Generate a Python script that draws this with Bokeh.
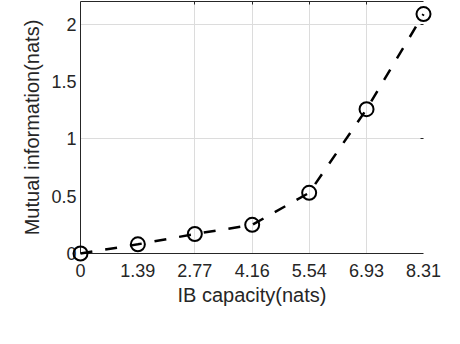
from bokeh.plotting import figure
from bokeh.models import FixedTicker, NumeralTickFormatter, LinearAxis, Range1d, CustomJSTickFormatter
from bokeh.embed import file_html
from bokeh.resources import INLINE

# Data
capacity = [0, 1.39, 2.77, 4.16, 5.54, 6.93, 8.31]
mutual_info = [0.0, 0.08, 0.17, 0.25, 0.53, 1.26, 2.09]
x_ticks = [0, 1.39, 2.77, 4.16, 5.54, 6.93, 8.31]
y_ticks = [0, 0.5, 1, 1.5, 2]
x_grid_ticks = [2.77, 4.16, 5.54, 6.93]
y_grid_ticks = [1, 2]

FONT = "Liberation Sans"
AX = "#262626"

p = figure(width=454, height=334,
           x_range=Range1d(0, 8.31), y_range=Range1d(0, 2.2),
           output_backend="svg", toolbar_location=None,
           min_border_left=84, min_border_right=27,
           min_border_top=5, min_border_bottom=77)
p.margin = (-4, 0, 0, -4)
p.outline_line_color = None
p.background_fill_color = "white"
p.border_fill_color = "white"

# grids
p.xgrid.ticker = FixedTicker(ticks=x_grid_ticks)
p.ygrid.ticker = FixedTicker(ticks=y_grid_ticks)
for g in (p.xgrid, p.ygrid):
    g.grid_line_color = "#dcdcdc"
    g.grid_line_width = 1

# bottom axis
xa = p.xaxis[0]
xa.ticker = FixedTicker(ticks=x_ticks)
xa.formatter = NumeralTickFormatter(format="0.[00]")
xa.axis_label = "IB capacity(nats)"
xa.major_tick_in = 0
xa.major_tick_out = 0
xa.minor_tick_line_color = None
xa.major_label_standoff = 10
xa.axis_label_standoff = 4

# left axis
ya = p.yaxis[0]
ya.ticker = FixedTicker(ticks=y_ticks)
ya.formatter = NumeralTickFormatter(format="0.[00]")
ya.axis_label = "Mutual information(nats)"
ya.major_tick_in = 0
ya.major_tick_out = 0
ya.minor_tick_line_color = None
ya.major_label_standoff = 4
ya.axis_label_standoff = 5

for a in (xa, ya):
    a.axis_line_color = AX
    a.axis_line_width = 1
    a.major_label_text_font = FONT
    a.major_label_text_font_size = "18px"
    a.major_label_text_color = AX
    a.axis_label_text_font = FONT
    a.axis_label_text_font_size = "20px"
    a.axis_label_text_font_style = "normal"
    a.axis_label_text_color = AX

# top border with small inward ticks
top = LinearAxis(ticker=FixedTicker(ticks=x_grid_ticks),
                 formatter=CustomJSTickFormatter(code="return ''"))
top.axis_line_color = AX
top.major_tick_line_color = AX
top.major_tick_in = 3
top.major_tick_out = 0
top.minor_tick_line_color = None
top.major_label_standoff = 0
top.major_label_text_font_size = "1px"
p.add_layout(top, "above")

# right side: only small ticks
right = LinearAxis(ticker=FixedTicker(ticks=y_grid_ticks),
                   formatter=CustomJSTickFormatter(code="return ''"))
right.axis_line_color = None
right.major_tick_line_color = AX
right.major_tick_in = 3
right.major_tick_out = 0
right.minor_tick_line_color = None
right.major_label_standoff = 0
right.major_label_text_font_size = "1px"
p.add_layout(right, "right")

p.line(capacity, mutual_info, line_color="black", line_width=2.5,
       line_dash="12 13", level="overlay")
p.scatter(capacity, mutual_info, marker="circle", size=14, fill_color=None,
          line_color="black", line_width=2, level="overlay")

open("out.html", "w").write(file_html(p, INLINE))
